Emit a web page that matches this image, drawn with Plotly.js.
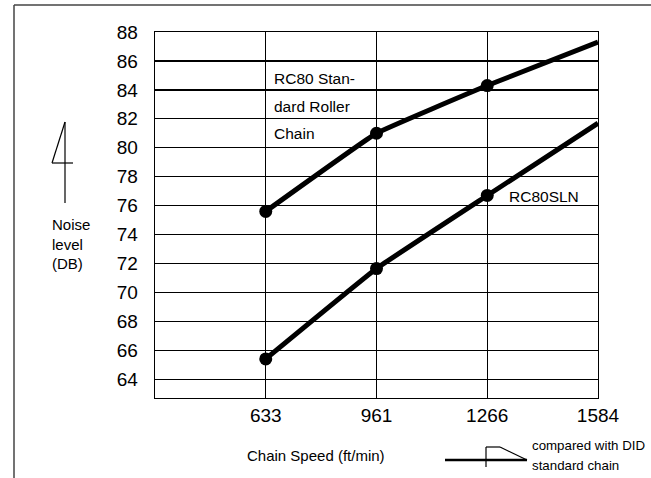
<!DOCTYPE html>
<html><head><meta charset="utf-8">
<script src="https://cdn.plot.ly/plotly-3.0.1.min.js"></script>
<style>html,body{margin:0;padding:0;background:#fff}#c{width:651px;height:478px}</style>
</head><body><div id="c"></div>
<script>
const speeds = ['633', '961', '1266', '1584'];
const standardRoller = [75.6, 81.0, 84.3, 87.3];
const rc80sln = [65.4, 71.65, 76.7, 81.7];
const yTicks = [64, 66, 68, 70, 72, 74, 76, 78, 80, 82, 84, 86, 88];

const W = 651, H = 478, L = 155, R = 598, T = 32, B = 398;
const px = x => (x - L) / (R - L);
const py = y => 1 - (y - T) / (B - T);
const FONT = 'Liberation Sans, Arial, sans-serif';

const mk = (ys, name) => ({
  x: speeds, y: ys, name: name, type: 'scatter', mode: 'lines+markers',
  line: {color: '#000', width: 5, shape: 'spline', smoothing: 0.25},
  marker: {color: '#000', opacity: 1, size: [13, 13, 13, 0], line: {width: 0}},
  hoverinfo: 'skip', cliponaxis: false
});

const ann = (text, x, y, size, xanchor) => ({
  text: text, xref: 'paper', yref: 'paper', x: px(x), y: py(y),
  xanchor: xanchor || 'left', yanchor: 'middle', showarrow: false,
  font: {family: FONT, size: size, color: '#000'}
});

const line = (x0, y0, x1, y1, w, c) => ({
  type: 'line', xref: 'paper', yref: 'paper',
  x0: px(x0), y0: py(y0), x1: px(x1), y1: py(y1),
  line: {color: c || '#000', width: w || 1.3}
});

const layout = {
  width: W, height: H,
  margin: {l: L, r: W - R, t: T, b: H - B},
  paper_bgcolor: '#fff', plot_bgcolor: '#fff',
  showlegend: false,
  font: {family: FONT, color: '#000'},
  xaxis: {
    type: 'category', categoryorder: 'array', categoryarray: speeds,
    range: [-1, 3], showgrid: true, gridcolor: '#000', gridwidth: 1.3,
    showline: true, linecolor: '#000', linewidth: 1.3, mirror: true,
    ticks: '', tickfont: {size: 19, family: FONT, color: '#000'},
    ticklabelstandoff: 0, zeroline: false, fixedrange: true
  },
  yaxis: {
    range: [62.7, 88], tickvals: yTicks, ticktext: yTicks.map(String),
    showgrid: true, gridcolor: '#000', gridwidth: 1.3,
    showline: true, linecolor: '#000', linewidth: 1.3, mirror: true,
    ticks: '', tickfont: {size: 19, family: FONT, color: '#000'},
    ticklabelstandoff: 12, zeroline: false, fixedrange: true
  },
  annotations: [
    ann('RC80 Stan-', 272, 78, 15.5),
    ann('dard Roller', 272, 106, 15.5),
    ann('Chain', 272, 133, 15.5),
    ann('RC80SLN', 507, 196, 15.5),
    ann('Noise', 50, 224, 15),
    ann('level', 50, 244, 15),
    ann('(DB)', 50, 263, 15),
    ann('Chain Speed (ft/min)', 316, 455, 15, 'center'),
    ann('compared with DID', 530, 445, 13.3),
    ann('standard chain', 530, 465, 13.3)
  ],
  shapes: [
    line(14, 5, 651, 5, 1.5, '#444'),
    line(14, 5, 14, 478, 1.5, '#444'),
    line(65, 122, 65, 203, 1.2),
    line(65, 122, 52, 163, 1.2),
    line(52, 163, 73, 163, 1.2),
    line(445, 460, 527, 460, 2.5),
    line(486, 447, 486, 467, 1.2),
    line(486, 447, 500, 447, 1.2),
    line(500, 447, 527, 460, 1.2)
  ]
};

Plotly.newPlot('c', [mk(standardRoller, 'RC80 Standard Roller Chain'), mk(rc80sln, 'RC80SLN')], layout, {displayModeBar: false, staticPlot: true});
</script></body></html>
